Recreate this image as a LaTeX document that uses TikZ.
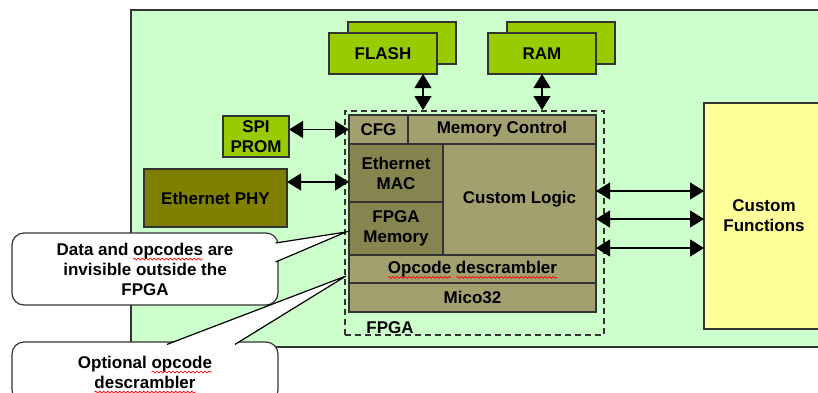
\documentclass[tikz,border=0pt]{standalone}
\usepackage{fontspec}
\setmainfont{Liberation Sans}
\usetikzlibrary{positioning, arrows.meta, calc, decorations.pathmorphing}

\definecolor{bggreen}{HTML}{CCFFCC}
\definecolor{limegreen}{HTML}{99CC00}
\definecolor{phyolive}{HTML}{808000}
\definecolor{corelt}{HTML}{A3A070}
\definecolor{coredk}{HTML}{86844F}
\definecolor{fnyellow}{HTML}{FFFF99}

% red wavy underline (spell check marks)
\newcommand\spellerr[1]{\setbox0\hbox{#1}\leavevmode\rlap{\tikz[overlay]\draw[red, sharp corners, solid, line width=0.35pt, decorate, decoration={snake, amplitude=0.45pt, segment length=2pt}] (0pt,-2pt) -- (\wd0,-2pt);}\box0\relax}

\begin{document}
\begin{tikzpicture}[x=0.5pt, y=-0.5pt, font=\fontsize{8.5}{10}\selectfont\bfseries,
   box/.style={draw=black!80, line width=0.7pt, inner sep=0pt, outer sep=0pt, align=center},
   chip/.style={box, fill=limegreen},
   core/.style={box, fill=corelt},
   coredark/.style={box, fill=coredk},
   dbl/.style={{Triangle[length=7pt,width=8.5pt]}-{Triangle[length=7pt,width=8.5pt]}, line width=0.6pt},
   note/.style={draw=black!80, fill=white, rounded corners=6pt, line width=0.6pt, align=center, inner sep=0pt}]

   \clip (0,0) rectangle (818,392);
   \fill[white] (0,0) rectangle (818,392);

   \node[box, fill=bggreen, minimum width=350pt, minimum height=168.5pt, anchor=north west] (board) at (131,10) {};

   % memories
   \node[chip, minimum width=54pt, minimum height=21pt] (flashb) at (402,43) {};
   \node[chip, minimum width=54pt, minimum height=20.5pt] (flash) at (383,53.5) {FLASH};
   \node[chip, minimum width=54pt, minimum height=21pt] (ramb) [right=25.5pt of flashb] {};
   \node[chip, minimum width=54pt, minimum height=20.5pt] (ram) [right=25.5pt of flash] {RAM};

   \node[chip, minimum width=33pt, minimum height=20.5pt] (spi) at (256,136.5) {SPI\\PROM};
   \node[box, fill=phyolive, minimum width=71.5pt, minimum height=29pt] (phy) at (215.5,198) {Ethernet PHY};
   \node[box, fill=fnyellow, minimum width=60pt, minimum height=113pt, anchor=north west] (cf) at (704,103) {Custom\\Functions};

   % FPGA
   \node[draw=black!80, dashed, dash pattern=on 3pt off 2pt, line width=0.75pt, minimum width=129.5pt, minimum height=112pt, anchor=north west] (fpga) at (344,110) {};
   \node (fpgalbl) at (390,328) {FPGA};

   \node[core, minimum width=29.5pt, minimum height=14.5pt, anchor=north west] (cfg) at (349,115) {CFG};
   \node[core, minimum width=94pt, minimum height=14.5pt] (memctl) [right=0pt of cfg] {Memory Control};
   \node[coredark, minimum width=47pt, minimum height=29pt] (mac) [below right=0pt and 0pt of cfg.south west] {Ethernet\\MAC};
   \node[coredark, minimum width=47pt, minimum height=26.5pt] (mem) [below=0pt of mac] {FPGA\\Memory};
   \node[core, minimum width=76.5pt, minimum height=55.5pt] (logic) [below right=0pt and 0pt of mac.north east] {Custom Logic};
   \node[core, minimum width=123.5pt, minimum height=14pt] (desc) [below right=0pt and 0pt of mem.south west] {\spellerr{Opcode} \spellerr{descrambler}};
   \node[core, minimum width=123.5pt, minimum height=14.5pt] (mico) [below=0pt of desc] {Mico32};

   % buses
   \coordinate (fl) at ([xshift=20pt]flash.south);
   \coordinate (ph) at ([yshift=-4.5pt]mac.west);
   \path[dbl]
    (fl) edge (fl |- fpga.north)
    (ram.south) edge (ram.south |- fpga.north)
    (spi.east |- cfg.west) edge (cfg.west)
    (ph -| phy.east) edge (ph);
   \foreach \y in {191,219,248}
     \path[dbl] (logic.east |- 0,\y) edge (cf.west |- 0,\y);

   % callouts
   \node[note, minimum width=133pt, minimum height=36pt] (note1) at (145,269) {Data and \spellerr{opcodes} are\\invisible outside the\\FPGA};
   \coordinate (tip1) at (346,232);
   \draw[line width=0.6pt, fill=white] ($(note1.east |- 0,243)+(-3,0)$) -- (tip1) -- ($(note1.east |- 0,262)+(-3,0)$);

   \node[note, minimum width=133pt, minimum height=30pt] (note2) at (145,372) {Optional \spellerr{opcode}\\\spellerr{descrambler}};
   \coordinate (tip2) at (346,276);
   \draw[line width=0.6pt, fill=white] ($(167,0 |- note2.north)+(0,3)$) -- (tip2) -- ($(235,0 |- note2.north)+(0,3)$);
\end{tikzpicture}
\end{document}
